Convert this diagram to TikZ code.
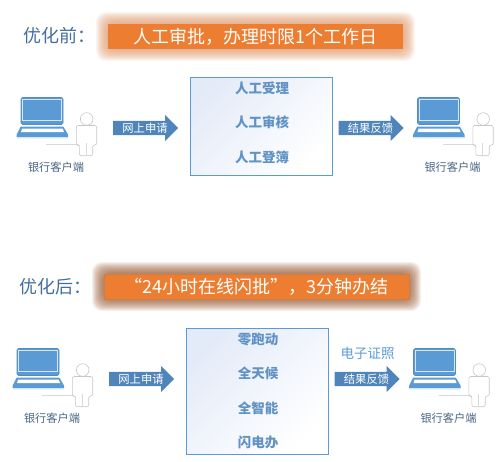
\documentclass[tikz,border=0pt]{standalone}
\usepackage{fontspec}
\setmainfont{Noto Sans CJK SC}
\usepackage{xcolor}
\usetikzlibrary{shapes.arrows, calc}
\definecolor{headblue}{RGB}{68, 110, 155}
\definecolor{stepblue}{RGB}{96, 146, 198}
\definecolor{stepshade}{RGB}{228, 235, 248}
\definecolor{arrowblue}{RGB}{79, 133, 186}
\definecolor{screenblue}{RGB}{91, 155, 213}
\definecolor{clientgray}{RGB}{72, 100, 132}
\definecolor{bannerorange}{RGB}{237, 125, 49}
\definecolor{glowtan}{RGB}{222, 150, 105}
\definecolor{glowbrown}{RGB}{150, 85, 45}
\tikzset{
    headtext/.style={text=headblue, font=\fontsize{18}{20}\selectfont, inner sep=0pt, anchor=west},
    bannerbox/.style={fill=bannerorange, text=white, font=\fontsize{18}{20}\selectfont,
        minimum height=25pt, inner sep=0pt},
    stepbox/.style={draw=screenblue, line width=0.9pt, top color=stepshade, bottom color=white,
        shading angle=45, minimum width=142pt, inner sep=0pt},
    steptext/.style={text=stepblue, font=\fontsize{13.5}{15}\bfseries\selectfont, inner sep=0pt},
    flowarrow/.style={single arrow, fill=arrowblue, anchor=tail,
        minimum height=65pt, single arrow head extend=6pt, single arrow tip angle=90,
        single arrow head indent=0pt, text height=10pt, text depth=0pt, inner sep=2pt},
    flowtext/.style={text=white, font=\fontsize{11.3}{12}\selectfont, inner sep=0pt},
    client/.pic={
        % laptop
        \draw[screenblue!90!black, fill=screenblue, line width=0.6pt, rounded corners=1.5pt] (0,0) rectangle (42,27);
        \draw[screenblue!25, line width=0.6pt] (1.7,2) rectangle (40.3,22.5);
        \fill[screenblue!12] (-4.3,38.5) rectangle (47,41);
        \fill[screenblue] (-0.3,29) -- (42.3,29) -- (47,37) -- (47,39.5) -- (-4.3,39.5) -- (-4.3,37) -- cycle;
        \fill[white] (1,31.2) -- (41.7,31.2) -- (43,34.5) -- (0,34.5) -- cycle;
        % person
        \draw[black!15, line width=0.7pt] (25,46.8) -- (55,46.8);
        \draw[black!22, fill=white, line width=0.6pt] (65.7,21.5) circle (6.3);
        \draw[black!22, fill=white, line width=0.6pt, rounded corners=2pt]
            (55.3,28) -- (75.7,28) -- (75.7,47.5) -- (71.7,47.5) -- (71.7,58.2) -- (58.3,58.2) -- (58.3,47.5) -- (55.3,47.5) -- cycle;
        \draw[black!15, line width=0.6pt] (65,45.5) -- (65,58.2);
        \node[text=clientgray, font=\fontsize{11.2}{12}\selectfont, inner sep=0pt] (-label) at (35,69.5) {银行客户端};
    },
}
\newcommand{\glowaround}[2]{
    \foreach \r in {12,11.5,...,0.5}
        \fill[#2, opacity=0.05, rounded corners=10pt]
            ($(#1.south west)+(-\r,\r)$) rectangle ($(#1.north east)+(\r,-\r)$);
}
\begin{document}
\begin{tikzpicture}[x=1pt, y=-1pt]
    \useasboundingbox (0,0) rectangle (500,461);

    % before
    \node[headtext] (headBefore) at (23,35.5) {优化前：};
    \node[bannerbox, minimum width=295pt] (bannerBefore) at (255.5,36.5) {};
    \glowaround{bannerBefore}{glowtan}
    \node[bannerbox, minimum width=295pt] (bannerBefore) at (255.5,36.5) {人工审批，办理时限1个工作日};

    \pic (clientA) at (21,97.5) {client};
    \pic (clientB) at (417.5,97.5) {client};
    \node[flowarrow] (applyBefore) at (113,128) {};
    \node[flowtext] (applyBeforeText) at (145,128) {网上申请};
    \node[stepbox, minimum height=97.5pt] (stepsBefore) at (261.5,126.3) {};
    \node[steptext] (stepA) at (262,88) {人工受理};
    \node[steptext] (stepB) at (262,122.5) {人工审核};
    \node[steptext] (stepC) at (262,157) {人工登簿};
    \node[flowarrow] (resultBefore) at (338.5,128) {};
    \node[flowtext] (resultBeforeText) at (370.5,128) {结果反馈};

    % after
    \node[headtext] (headAfter) at (19,286.5) {优化后：};
    \node[bannerbox, minimum width=305pt] (bannerAfter) at (256.5,286.5) {};
    \glowaround{bannerAfter}{glowbrown}
    \node[bannerbox, minimum width=305pt, draw=bannerorange!70!gray, line width=0.4pt] (bannerAfter) at (256.5,286.5) {“24小时在线闪批”，3分钟办结};

    \pic (clientC) at (17,98.5+250) {client};
    \pic (clientD) at (413.5,98.5+250) {client};
    \node[flowarrow] (applyAfter) at (109,379) {};
    \node[flowtext] (applyAfterText) at (141,379) {网上申请};
    \node[stepbox, minimum height=125.5pt] (stepsAfter) at (257.5,391.3) {};
    \node[steptext] (stepD) at (258,339) {零跑动};
    \node[steptext] (stepE) at (258,373.5) {全天候};
    \node[steptext] (stepF) at (258,408) {全智能};
    \node[steptext] (stepG) at (258,442.5) {闪电办};
    \node[flowarrow] (resultAfter) at (334.5,379) {};
    \node[flowtext] (resultAfterText) at (366.5,379) {结果反馈};
    \node[text=screenblue, font=\fontsize{13.5}{15}\selectfont, inner sep=0pt] (licenceLabel) at (367.5,353) {电子证照};
\end{tikzpicture}
\end{document}
